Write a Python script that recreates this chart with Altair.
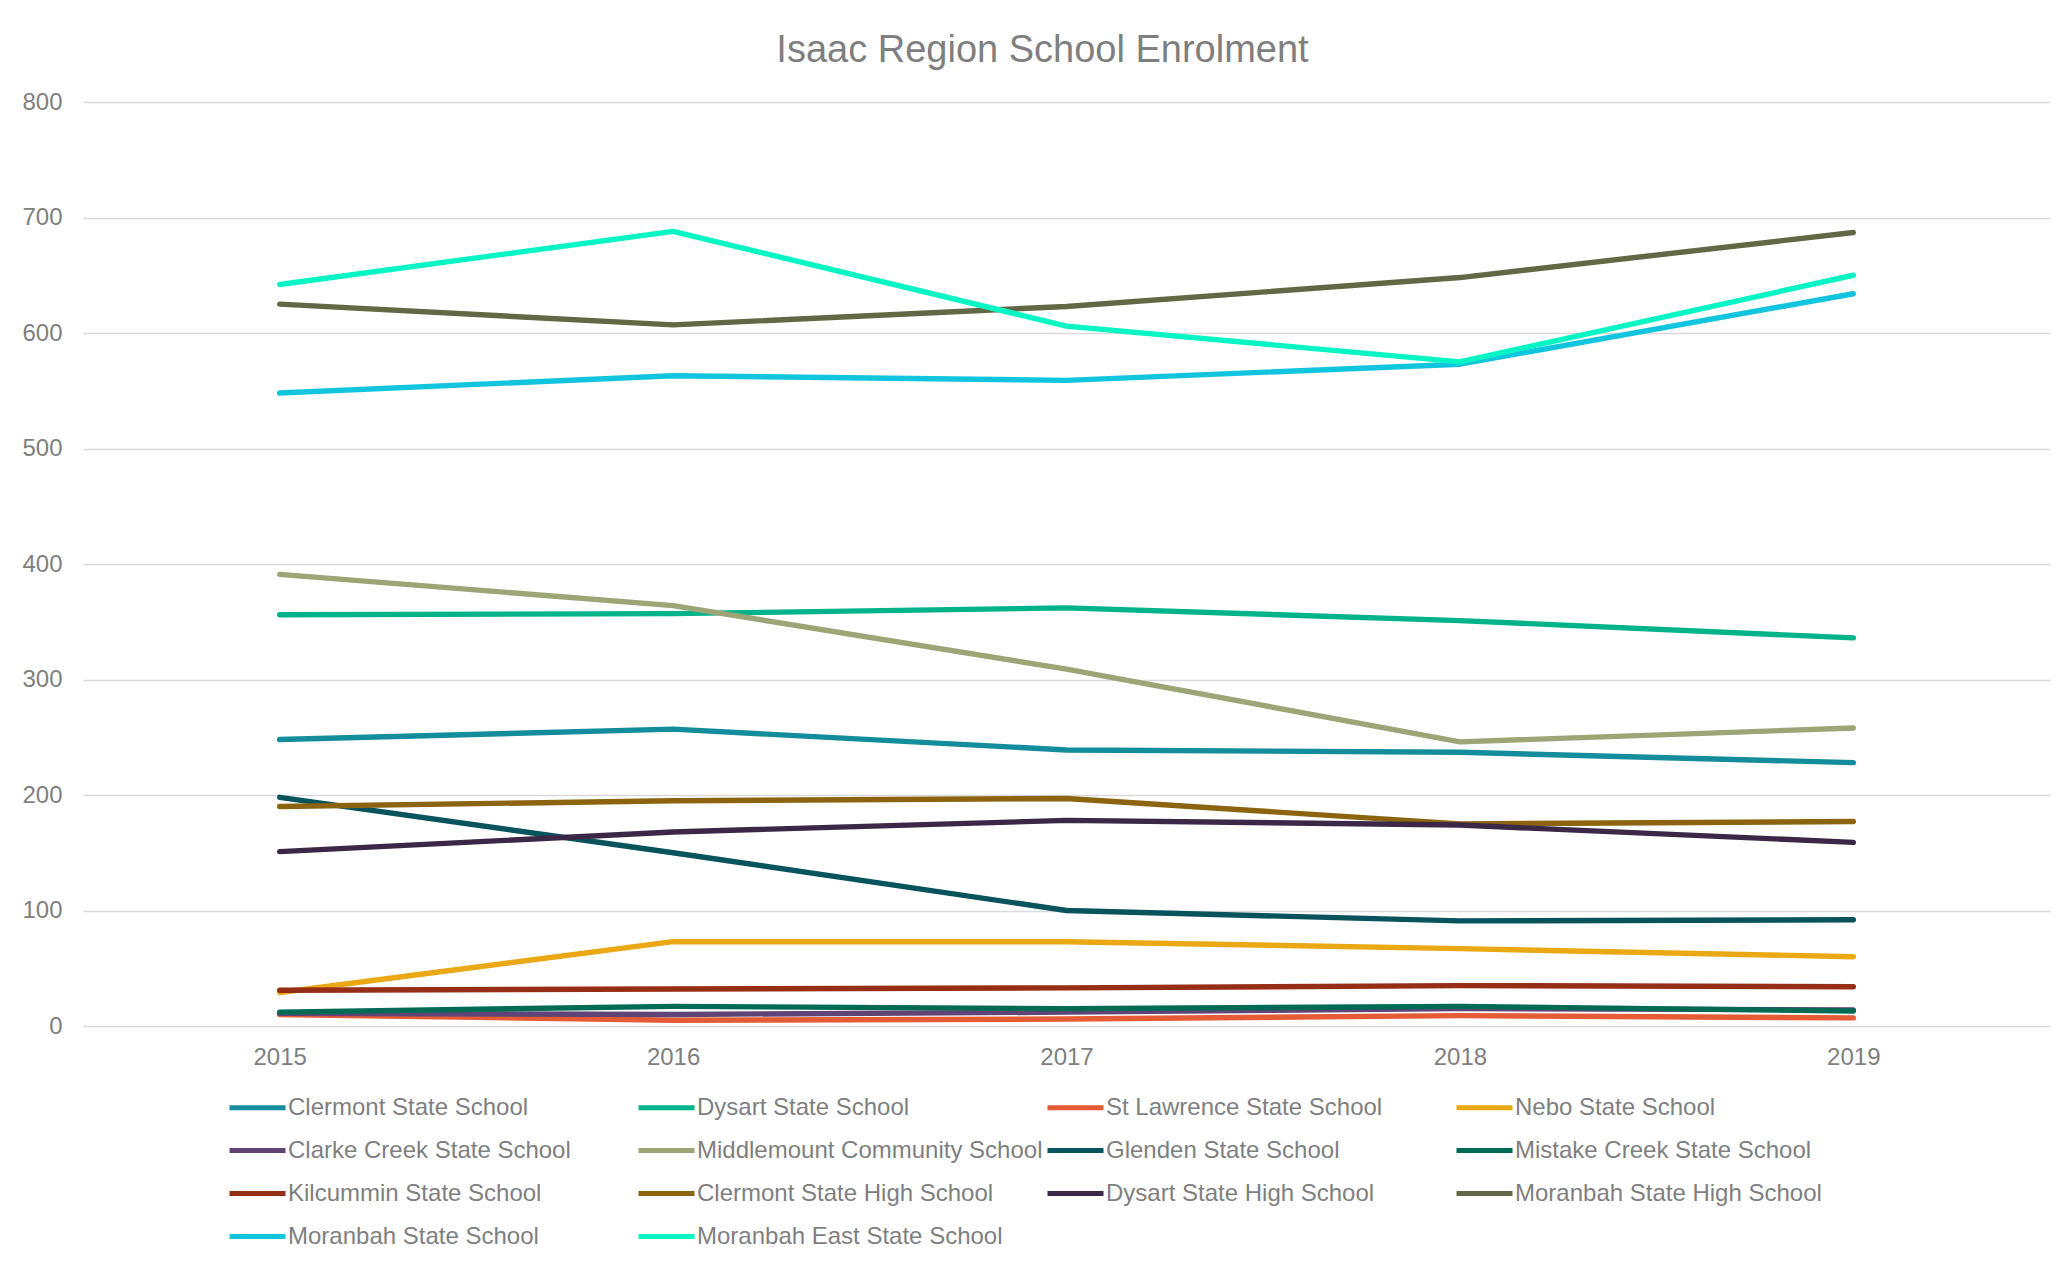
import altair as alt
import pandas as pd

years = ["2015", "2016", "2017", "2018", "2019"]

schools = [
    "Clermont State School",
    "Dysart State School",
    "St Lawrence State School",
    "Nebo State School",
    "Clarke Creek State School",
    "Middlemount Community School",
    "Glenden State School",
    "Mistake Creek State School",
    "Kilcummin State School",
    "Clermont State High School",
    "Dysart State High School",
    "Moranbah State High School",
    "Moranbah State School",
    "Moranbah East State School",
]

clermont_ss = [248, 257, 239, 237, 228]
dysart_ss = [356, 357, 362, 351, 336]
st_lawrence_ss = [10, 5, 6, 9, 7]
nebo_ss = [29, 73, 73, 67, 60]
clarke_creek_ss = [11, 10, 12, 15, 14]
middlemount_cs = [391, 364, 309, 246, 258]
glenden_ss = [198, 150, 100, 91, 92]
mistake_creek_ss = [12, 17, 15, 17, 13]
kilcummin_ss = [31, 32, 33, 35, 34]
clermont_shs = [190, 195, 197, 175, 177]
dysart_shs = [151, 168, 178, 174, 159]
moranbah_shs = [625, 607, 623, 648, 687]
moranbah_ss = [548, 563, 559, 573, 634]
moranbah_east_ss = [642, 688, 606, 575, 650]

colors = [
    "#138C9C", "#00B38A", "#E55B35", "#EAA914", "#5F4475", "#9BA575", "#08535C",
    "#006B55", "#962D15", "#8C6410", "#3A2846", "#626845", "#12C5DE", "#06F5C4",
]

series = [
    clermont_ss, dysart_ss, st_lawrence_ss, nebo_ss, clarke_creek_ss, middlemount_cs,
    glenden_ss, mistake_creek_ss, kilcummin_ss, clermont_shs, dysart_shs,
    moranbah_shs, moranbah_ss, moranbah_east_ss,
]

rows = []
for i, (name, vals) in enumerate(zip(schools, series)):
    for y, v in zip(years, vals):
        rows.append({"School": name, "Year": y, "Enrolment": v, "idx": i})
df = pd.DataFrame(rows)

FONT = "Liberation Sans, Arial, sans-serif"
GREY = "#7F7F7F"

chart = (
    alt.Chart(df)
    .mark_line(strokeWidth=5.4, strokeCap="round", strokeJoin="round")
    .encode(
        x=alt.X(
            "Year:O",
            scale=alt.Scale(type="point", padding=0.5),
            axis=alt.Axis(
                title=None, labelAngle=0, domain=False, ticks=False,
                labelPadding=19, labelFontSize=24, labelColor=GREY, labelFont=FONT,
                grid=False,
            ),
        ),
        y=alt.Y(
            "Enrolment:Q",
            scale=alt.Scale(domain=[0, 800], nice=False),
            axis=alt.Axis(
                title=None, values=[0, 100, 200, 300, 400, 500, 600, 700, 800],
                domain=False, ticks=False, labelPadding=21, labelFontSize=24,
                labelColor=GREY, labelFont=FONT, gridColor="#D9D9D9", gridWidth=1.4,
            ),
        ),
        color=alt.Color(
            "School:N",
            scale=alt.Scale(domain=schools, range=colors),
            legend=alt.Legend(
                title=None, orient="none", legendX=144, legendY=975,
                direction="horizontal", columns=4, gridAlign="all",
                symbolType="stroke", symbolSize=3136, symbolStrokeWidth=5,
                labelFontSize=24, labelFont=FONT, labelColor=GREY, labelLimit=600,
                labelOffset=0, columnPadding=-6, rowPadding=0,
            ),
        ),
        order=alt.Order("Year:O"),
    )
    .properties(
        width=1967,
        height=924,
        background="white",
        autosize=alt.AutoSizeParams(type="none"),
        padding={"left": 75, "top": 94, "right": 10, "bottom": 222},
        title=alt.TitleParams(
            "Isaac Region School Enrolment", fontSize=38, font=FONT, color=GREY,
            fontWeight="normal", anchor="middle", baseline="alphabetic",
            offset=26, dy=36, dx=-24,
        ),
    )
    .configure_view(strokeWidth=0, stroke="transparent")
)

chart.save("out.html", embed_options={"renderer": "svg", "actions": False})
